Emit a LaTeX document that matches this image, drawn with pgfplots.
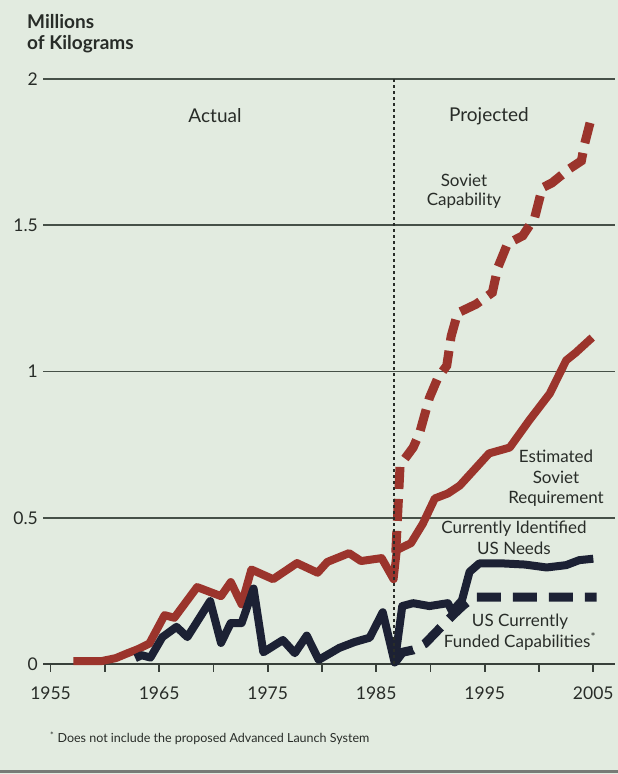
\documentclass[border=0pt]{standalone}
\usepackage{fontspec}
\setmainfont{Lato}
\usepackage{pgfplots}
\pgfplotsset{compat=1.18}
\definecolor{bg}{RGB}{226,235,224}
\definecolor{sred}{RGB}{155,52,44}
\definecolor{navy}{RGB}{28,33,52}
\definecolor{gridc}{RGB}{70,80,72}
\definecolor{txt}{RGB}{40,44,40}
\begin{document}
\begin{tikzpicture}[x=1pt,y=1pt]
\fill[bg] (0,0) rectangle (618,774);
\useasboundingbox (0,0) rectangle (618,774);
\draw[line width=3pt, color={rgb,255:red,120;green,122;blue,118}] (0,2) -- (618,2);
\begin{axis}[
  at={(43pt,110pt)}, anchor=south west,
  scale only axis, width=572pt, height=585pt,
  xmin=1954.3, xmax=2007, ymin=0, ymax=2,
  axis x line*=bottom, axis y line*=left,
  y axis line style={draw=none},
  x axis line style={line width=2pt, gridc!80!black},
  xtick={1955,1960,...,2005},
  xticklabels={1955,,1965,,1975,,1985,,1995,,2005},
  ytick={0,0.5,1,1.5,2}, yticklabels={0,0.5,1,1.5,2},
  ymajorgrids, grid style={line width=1.6pt, gridc},
  tick align=outside, major tick length=8pt,
  xtick style={line width=1.8pt, gridc!80!black}, ytick style={draw=none},
  tick label style={font=\fontsize{17.5}{17.5}\selectfont, text=txt},
  yticklabel style={inner xsep=0pt, xshift=3pt},
  xticklabel style={yshift=-11pt},
  /pgf/number format/assume math mode=true,
  clip=false,
]
% Estimated Soviet Requirement
\addplot[sred, line width=8pt, line join=round] coordinates {
(1957.1,0.01) (1959.7,0.01) (1961.0,0.02) (1962.1,0.037) (1963.0,0.05) (1964.1,0.07)
(1965.5,0.167) (1966.4,0.158) (1968.5,0.263) (1970.7,0.232) (1971.6,0.28)
(1972.6,0.204) (1973.5,0.323) (1975.5,0.29) (1977.7,0.345) (1979.6,0.312)
(1980.5,0.349) (1982.5,0.379) (1983.6,0.352) (1985.5,0.362) (1986.6,0.29)
(1986.9,0.39) (1988.2,0.413) (1989.3,0.48) (1990.4,0.566) (1991.6,0.583)
(1992.7,0.61) (1995.4,0.72) (1997.3,0.74) (1999.1,0.833) (2001.0,0.925)
(2002.5,1.038) (2003.4,1.065) (2004.9,1.116)};
% Soviet Capability
\addplot[sred, line width=9pt, dash pattern=on 22pt off 10pt] coordinates {
(1986.8,0.38) (1987.2,0.68) (1988.4,0.74) (1989.0,0.79) (1989.9,0.91)
(1990.7,0.98) (1991.5,1.02) (1991.9,1.12) (1992.5,1.2) (1994.2,1.23)
(1995.7,1.27) (1996.2,1.355) (1997.1,1.437) (1998.5,1.464) (1999.6,1.526)
(2000.3,1.628) (2001.2,1.645) (2002.8,1.693) (2003.9,1.72) (2004.2,1.778)
(2004.7,1.85)};
% Currently Identified US Needs
\addplot[navy, line width=8pt, line join=round] coordinates {
(1962.8,0.02) (1963.4,0.03) (1964.2,0.022)
(1965.3,0.092) (1966.6,0.127) (1967.6,0.092) (1969.7,0.215) (1970.7,0.072)
(1971.6,0.14) (1972.6,0.14) (1973.7,0.258) (1974.6,0.04) (1976.4,0.082)
(1977.5,0.037) (1978.6,0.097) (1979.7,0.014) (1981.6,0.055) (1983.0,0.075)
(1984.4,0.09) (1985.6,0.177) (1986.7,0.005) (1987.4,0.198) (1988.4,0.208)
(1989.9,0.198) (1991.6,0.208) (1992.0,0.18) (1992.9,0.218) (1993.6,0.315)
(1994.5,0.344) (1996.6,0.344) (1998.7,0.34) (2000.7,0.33) (2002.5,0.338)
(2003.7,0.355) (2005.0,0.36)};
% US Currently Funded Capabilities
\addplot[navy, line width=9pt, dash pattern=on 24pt off 12pt] coordinates {
(1986.7,0.005) (1987.4,0.04) (1988.4,0.048) (1989.5,0.07) (1990.8,0.12)
(1992.0,0.165) (1993.0,0.2) (1994.0,0.229) (2005.3,0.229)};
\draw[line width=1.5pt, txt, dash pattern=on 3pt off 3pt] (axis cs:1986.66,0) -- (axis cs:1986.66,2);
\end{axis}
\begin{scope}[every node/.style={text=txt, inner sep=0pt}]
\node[anchor=base west, font=\bfseries\fontsize{19}{19}\selectfont] at (27,774-29) {Millions};
\node[anchor=base west, font=\bfseries\fontsize{19}{19}\selectfont] at (27,774-50) {of Kilograms};
\node[anchor=base, font=\fontsize{19}{19}\selectfont] at (215,774-123) {Actual};
\node[anchor=base, font=\fontsize{19}{19}\selectfont] at (489,774-122) {Projected};
\node[anchor=base, font=\fontsize{17}{17}\selectfont] at (464,774-187) {Soviet};
\node[anchor=base, font=\fontsize{17}{17}\selectfont] at (464,774-206) {Capability};
\node[anchor=base, font=\fontsize{17}{17}\selectfont] at (556,774-463) {Estimated};
\node[anchor=base, font=\fontsize{17}{17}\selectfont] at (556,774-484) {Soviet};
\node[anchor=base, font=\fontsize{17}{17}\selectfont] at (556,774-504) {Requirement};
\node[anchor=base, font=\fontsize{17}{17}\selectfont] at (514,774-534) {Currently Identified};
\node[anchor=base, font=\fontsize{17}{17}\selectfont] at (514,774-555) {US Needs};
\node[anchor=base, font=\fontsize{17}{17}\selectfont] at (520,774-627) {US Currently};
\node[anchor=base, font=\fontsize{17}{17}\selectfont] at (520,774-648) {Funded Capabilities\textsuperscript{*}};
\node[anchor=base west, font=\fontsize{12.5}{12.5}\selectfont] at (50,774-743) {\textsuperscript{*} Does not include the proposed Advanced Launch System};
\end{scope}
\end{tikzpicture}
\end{document}
